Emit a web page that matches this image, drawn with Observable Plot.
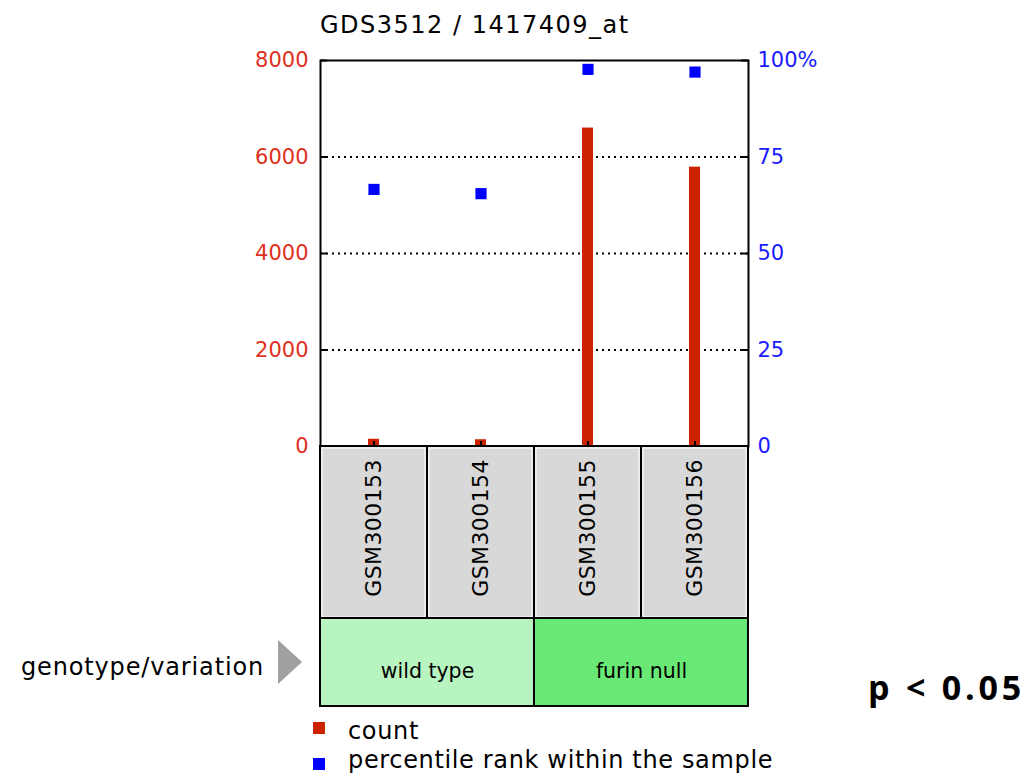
<!DOCTYPE html>
<html><head><meta charset="utf-8">
<script src="https://cdn.jsdelivr.net/npm/d3@7"></script>
<script src="https://cdn.jsdelivr.net/npm/@observablehq/plot@0.6"></script>
<style>
body{margin:0;background:#fff;}
#root{position:relative;width:1026px;height:778px;overflow:hidden;font-family:"DejaVu Sans",sans-serif;color:#000;}
.abs{position:absolute;white-space:nowrap;line-height:1;}
#root svg{position:absolute;left:0;overflow:visible;}
</style></head><body><div id="root"></div>
<script>
const title = "GDS3512 / 1417409_at";
const samples = ["GSM300153","GSM300154","GSM300155","GSM300156"];
const counts = [150, 140, 6600, 5790];
const percentiles = [66.6, 65.5, 97.7, 97.0];
const sampleGroups = ["wild type","wild type","furin null","furin null"];
const groups = ["wild type","furin null"];
const groupColors = ["#b8f4c0","#6ae876"];
const countTicks = [0,2000,4000,6000,8000];
const pctTicks = [0,25,50,75,100];
const pctTickLabels = ["0","25","50","75","100%"];
const groupLabel = "genotype/variation";
const legendLabels = ["count","percentile rank within the sample"];
const legendColors = ["#cc2200","#0000ff"];
const pValue = "p < 0.05";

const rows = samples.map((s,i)=>({sample:s, count:counts[i], pct:percentiles[i], group:sampleGroups[i]}));
const countMax = countTicks[countTicks.length-1];
const pctMax = pctTicks[pctTicks.length-1];
const toCount = p => p*countMax/pctMax;

const root = document.getElementById("root");
const W = 1026, mL = 320, mR = 278, H = 447, mT = 60, mB = 1;
const innerW = W - mL - mR, innerH = H - mT - mB;
const tickLen = 7;

// main chart
const main = Plot.plot({
  width: W, height: H,
  marginLeft: mL, marginRight: mR, marginTop: mT, marginBottom: mB,
  style: "font-family:'DejaVu Sans';font-size:21px;background:transparent;",
  x: {type:"band", domain: samples, padding: 0, axis: null},
  y: {domain: [0, countMax], axis: null},
  marks: [
    Plot.ruleY(countTicks.filter(t => t>0 && t<countMax), {stroke:"black", strokeWidth:2, strokeDasharray:"2,4"}),
    Plot.barY(rows, {x:"sample", y:"count", fill:"#cc2200", insetLeft:48, insetRight:48}),
    Plot.dot(rows, {x:"sample", y: d => toCount(d.pct), symbol:"square", fill:"#0000ff", r:6.3}),
    Plot.frame({stroke:"black", strokeWidth:2}),
    Plot.tickY(countTicks, {y: d => d, insetRight: innerW - tickLen, stroke:"black", strokeWidth:2}),
    Plot.tickY(pctTicks.map(toCount), {y: d => d, insetLeft: innerW - tickLen, stroke:"black", strokeWidth:2}),
    Plot.tickX(samples, {x: d => d, insetTop: innerH - 5, stroke:"black", strokeWidth:2}),
    Plot.axisY({ticks: countTicks, anchor:"left", tickSize:0, tickPadding:12, tickFormat: d => String(d), label:null, color:"#e0301e", fontSize:21}),
    Plot.axisY({ticks: pctTicks.map(toCount), anchor:"right", tickSize:0, tickPadding:9, tickFormat: d => pctTickLabels[pctTicks.indexOf(d*pctMax/countMax)], label:null, color:"#1a1aff", fontSize:21})
  ]
});
main.style.top = "0px";
root.appendChild(main);

// sample label boxes
const sampleRow = Plot.plot({
  width: W, height: 173,
  marginLeft: mL, marginRight: mR, marginTop: 0, marginBottom: 0,
  style: "font-family:'DejaVu Sans';font-size:22px;letter-spacing:0.4px;background:transparent;",
  x: {type:"band", domain: samples, padding: 0, axis: null},
  marks: [
    Plot.cell(samples, {x: d => d, fill:"#d8d8d8", stroke:"black", strokeWidth:2}),
    Plot.cell(samples, {x: d => d, fill:"none", stroke:"white", strokeWidth:1, inset:2}),
    Plot.text(samples, {x: d => d, text: d => d, rotate:-90, frameAnchor:"middle", dy:-5, fontSize:22, fill:"black"})
  ]
});
sampleRow.style.top = "446px";
root.appendChild(sampleRow);

// group boxes
const groupRow = Plot.plot({
  width: W, height: 88,
  marginLeft: mL, marginRight: mR, marginTop: 0, marginBottom: 0,
  style: "font-family:'DejaVu Sans';font-size:20.5px;background:transparent;",
  x: {type:"band", domain: groups, padding: 0, axis: null},
  color: {domain: groups, range: groupColors},
  marks: [
    Plot.cell(groups, {x: d => d, fill: d => d, stroke:"black", strokeWidth:2}),
    Plot.text(groups, {x: d => d, text: d => d, frameAnchor:"middle", dy:9, fontSize:20.5, fill:"black"})
  ]
});
groupRow.style.top = "618px";
root.appendChild(groupRow);

function addDiv(text, css) {
  const d = document.createElement("div");
  d.className = "abs";
  d.textContent = text;
  d.style.cssText += css;
  root.appendChild(d);
  return d;
}
addDiv(title, "left:320px;top:13px;font-size:24px;letter-spacing:1.5px;");
addDiv(groupLabel, "left:21px;top:655px;font-size:24px;letter-spacing:0.85px;");
const tri = document.createElement("div");
tri.style.cssText = "position:absolute;left:278px;top:640px;width:0;height:0;border-left:24px solid #a0a0a0;border-top:22.5px solid transparent;border-bottom:22.5px solid transparent;";
root.appendChild(tri);
const legendTops = [719, 748];
const squareTops = [722, 758];
legendLabels.forEach((t,i) => {
  const sq = document.createElement("div");
  sq.style.cssText = `position:absolute;left:313px;top:${squareTops[i]}px;width:12px;height:12px;background:${legendColors[i]};`;
  root.appendChild(sq);
  addDiv(t, `left:348px;top:${legendTops[i]}px;font-size:24px;letter-spacing:0.65px;`);
});
addDiv(pValue, "left:868px;top:670px;font-family:'Open Sans';font-weight:700;font-size:34px;letter-spacing:3.8px;");
</script></body></html>
